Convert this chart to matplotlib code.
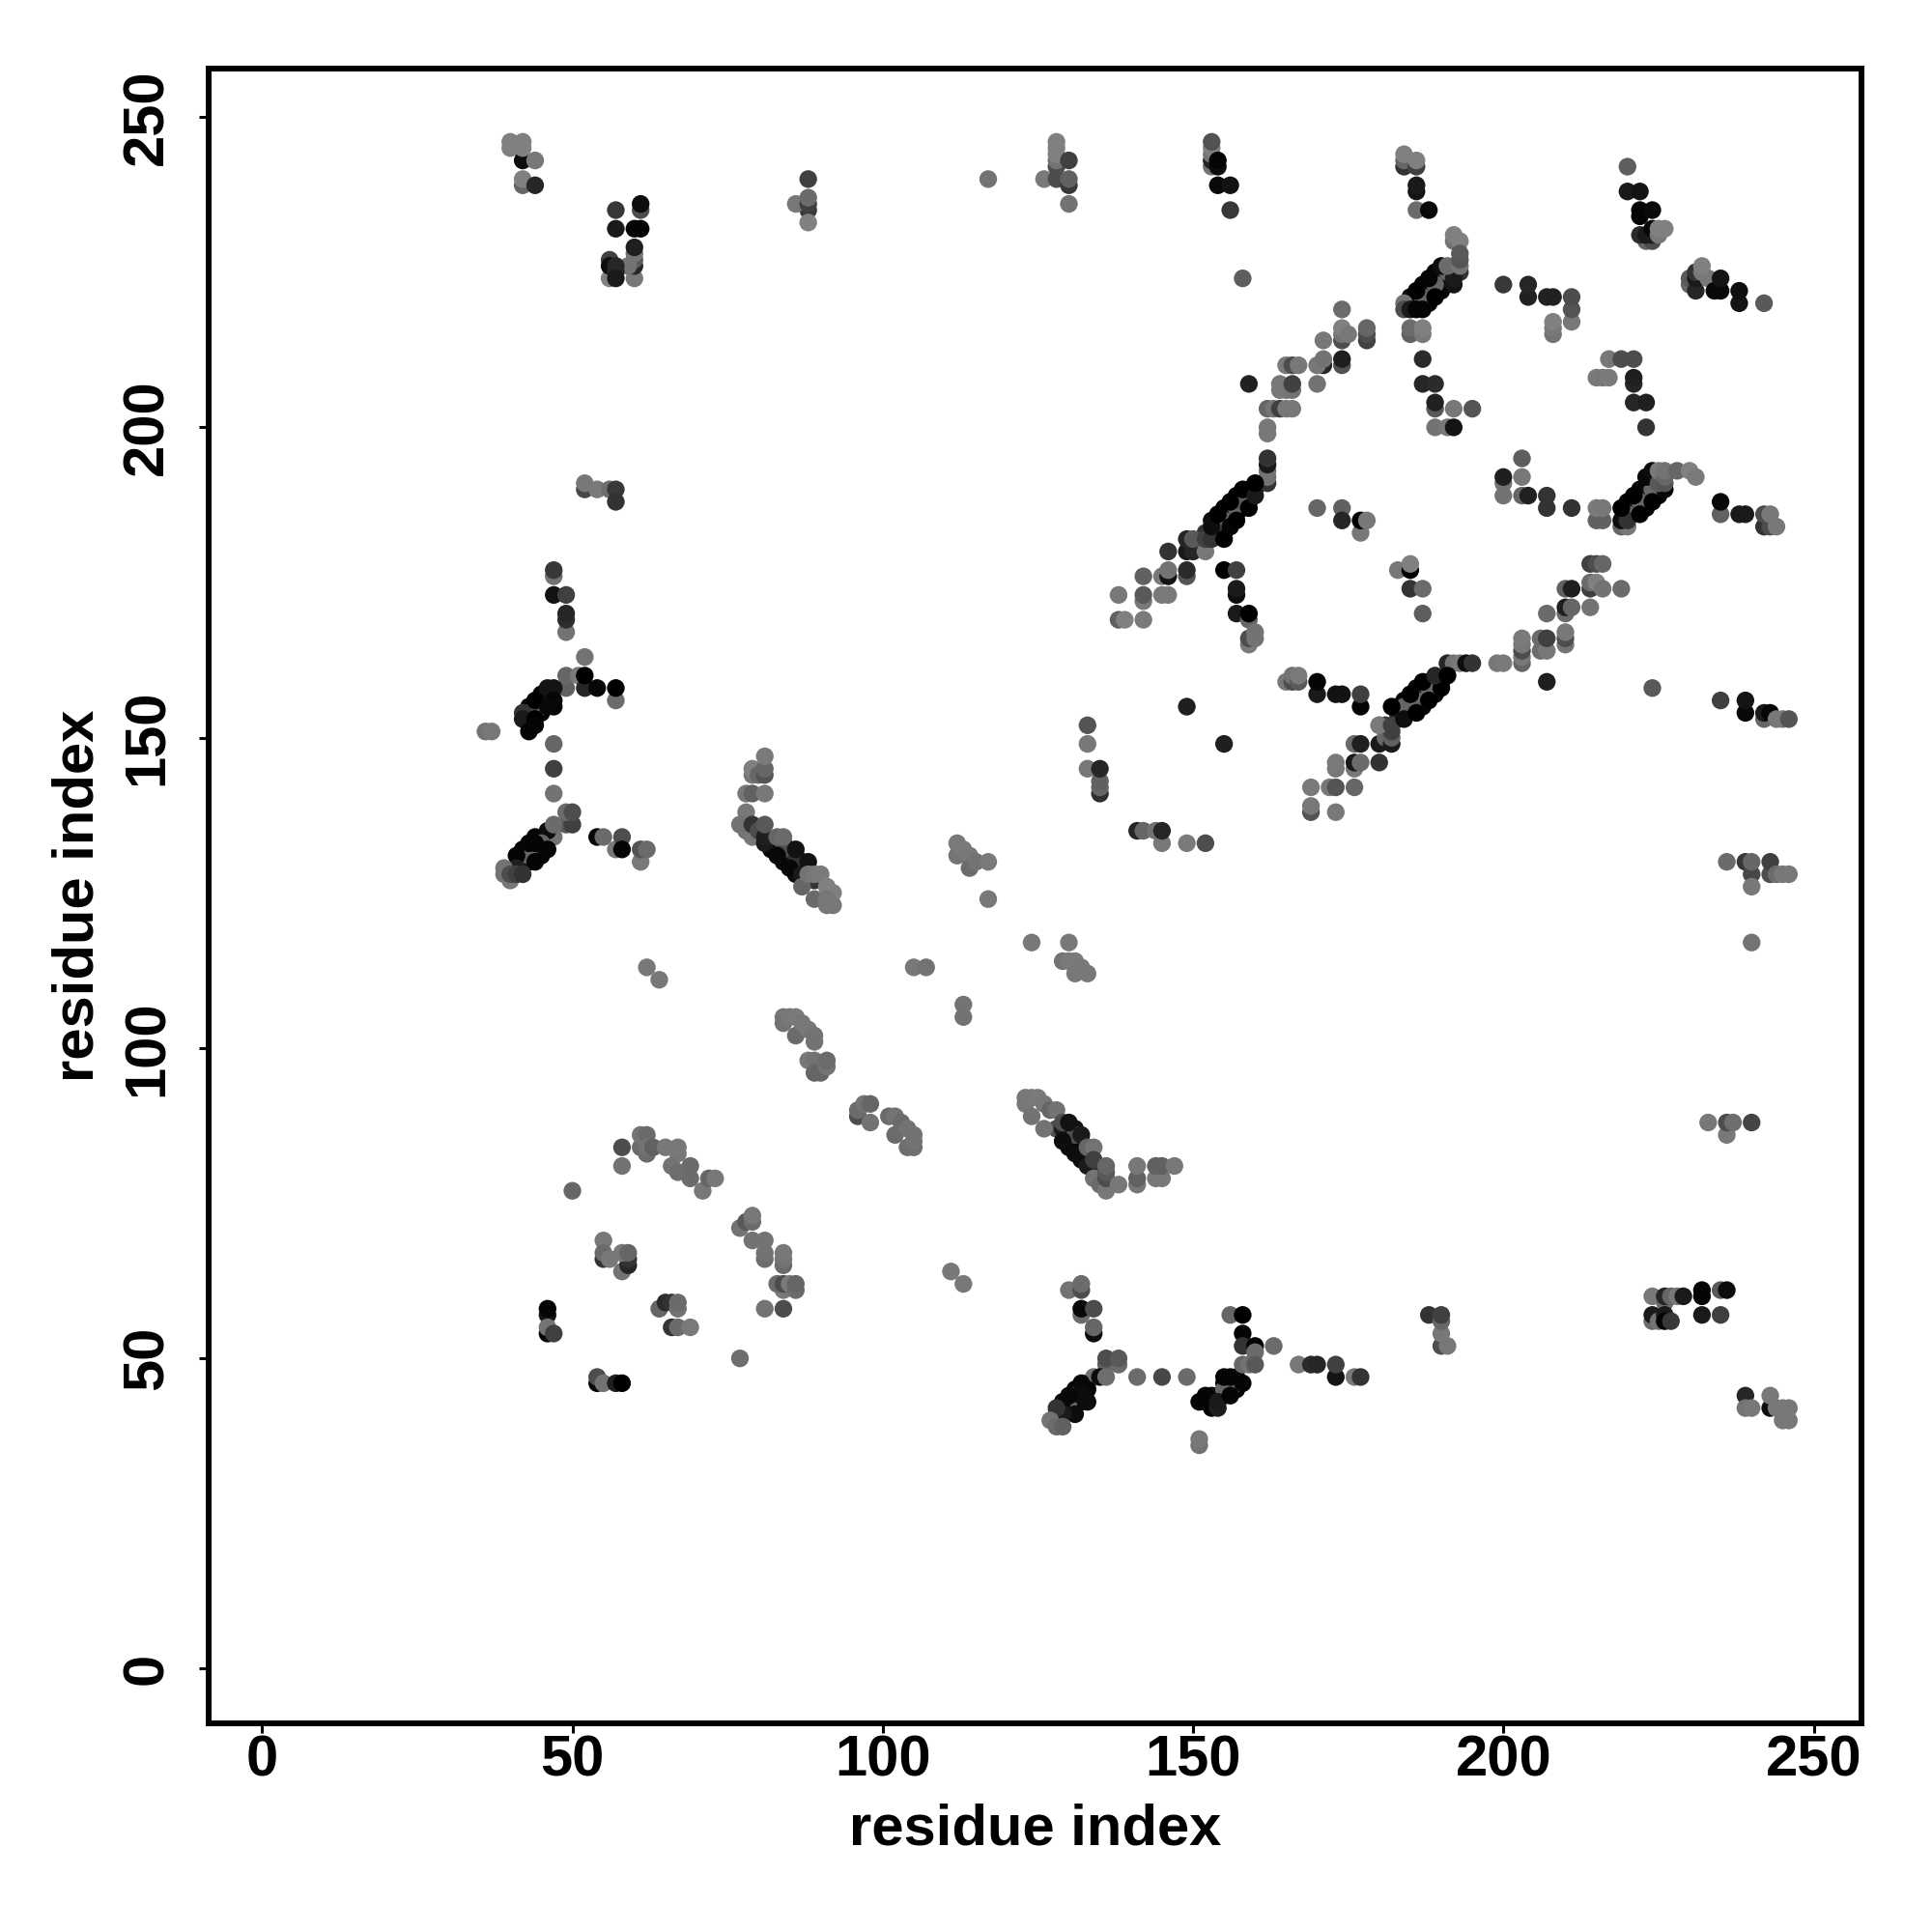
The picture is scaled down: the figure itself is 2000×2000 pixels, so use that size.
import matplotlib
matplotlib.use("Agg")
import matplotlib.pyplot as plt

# (residue i, residue j, grey level 0=black .. 0.5=mid grey)
diagonal_fill = [
(154,184,.05),(155,184,.02),(155,183,.05),(156,185,.05),(157,186,.02),(158,187,.02),(159,188,.02),(155,187,.02),(157,189,.02),(159,190,.02),(153,185,.05),(154,185,.1),(156,186,.05),(158,188,.05),(160,190,.1),(154,183,.2),(152,183,.2),
(183,153,.05),(185,155,.02),(187,155,.02),(189,157,.02),(183,155,.05),(184,156,.02),(186,158,.02),(188,159,.02),(190,159,.02),(185,156,.05),(187,157,.05),(189,158,.05),(183,154,.1),
(187,223,.02),(189,225,.02),(188,220,.02),(190,222,.02),(191,224,.02),(185,221,.05),(187,220,.05),(188,222,.05),(190,224,.05),(186,221,.05),
(220,188,.02),(222,190,.02),(223,187,.02),(225,189,.02),(221,187,.05),(223,189,.05),(222,187,.02),(224,192,.05),
(45,157,.02),(43,155,.02),(45,154,.02),(46,156,.02),(44,154,.02),(43,152,.02),(45,156,.05),
(44,134,.02),(42,132,.02),(45,131,.02),(43,130,.02),(45,132,.05),(43,132,.05),(42,130,.1),
(84,133,.05),(85,131,.02),(86,131,.02),(87,129,.05),(84,130,.03),(86,128,.05),(82,132,.03),(85,132,.1),(87,130,.1),(88,129,.1),(89,127,.2),
(130,87,.05),(131,87,.07),(132,85,.05),(130,84,.03),(131,85,.03),(132,82,.05),(133,83,.05),(134,81,.15),(135,80,.2),(128,87,.3),(129,87,.1),
(131,45,.02),(131,44,.02),(133,46,.02),(130,42,.02),(132,43,.02),(129,42,.05),(128,41,.2),
(156,46,.02),(157,45,.02),(155,44,.02),(155,46,.02),(153,43,.02),(152,43,.02),(157,47,.02),(153,44,.05),(154,44,.05),
]
top_left = [
(40,246,.5),(40,245,.5),(42,243,.05),(42,246,.5),(42,245,.5),(44,243,.47),(42,239,.4),(42,240,.5),(44,239,.15),
(57,235,.22),(61,235,.3),(61,236,.05),(57,232,.1),(60,232,.02),(61,232,.02),(60,224,.47),(60,226,.15),(60,227,.35),(59,226,.45),(60,228,.45),(60,229,.12),
(56,224,.5),(56,227,.25),(56,226,.05),(57,225,.15),(57,226,.15),(57,224,.1),
(88,235,.22),(88,240,.25),(86,236,.47),(88,236,.25),(88,237,.42),(88,233,.5),
(52,190,.28),(52,191,.47),(54,190,.48),(56,190,.43),(57,190,.22),(57,188,.2),
]
top_mid = [
(117,240,.45),(126,240,.48),(128,240,.3),(130,239,.22),(130,240,.38),(130,236,.45),
(128,242,.3),(128,243,.45),(128,244,.5),(128,245,.5),(128,246,.5),(130,243,.25),
(153,242,.45),(153,243,.15),(153,244,.45),(153,245,.5),(153,246,.32),(154,242,.05),(154,243,.02),(154,239,.04),(156,239,.07),(156,235,.22),
(158,224,.37),(159,207,.13),(174,219,.42),
(174,214,.3),(174,215,.45),(174,216,.5),(175,215,.47),(178,214,.25),(178,215,.3),(178,216,.4),(171,214,.47),
(171,210,.15),(170,210,.47),(171,211,.45),(174,210,.32),(174,211,.12),(170,207,.45),
(165,210,.48),(166,210,.3),(167,210,.47),(164,206,.47),(165,206,.47),(164,207,.47),(166,206,.45),(166,207,.25),
(162,203,.4),(163,203,.45),(164,203,.25),(165,203,.47),(166,203,.47),(162,199,.47),(162,200,.47),
(162,191,.2),(162,192,.45),(162,193,.45),(162,194,.1),(162,195,.2),
(149,180,.1),(150,180,.15),(149,182,.15),(152,180,.47),(146,180,.2),(150,182,.35),(152,182,.25),(153,182,.2),(153,184,.25),
(155,185,.4),(157,187,.4),(159,189,.12),(158,188,.35),
(155,182,0),(153,184,.05),(154,186,0),(156,184,.02),(157,185,0),(156,188,0),(159,187,0),(158,190,0),(160,189,.1),(160,191,0),
(170,187,.4),(174,187,.38),(174,185,.15),(177,183,.47),(177,185,0),(178,185,.47),
]
top_right = [
(184,242,.2),(184,243,.4),(184,244,.5),(186,242,.25),(186,243,.5),(186,238,.08),(186,239,.1),(186,235,.42),(188,235,.03),
(192,230,.45),(192,231,.5),(193,230,.5),
(187,221,.4),(189,223,.4),(191,225,.4),
(193,225,.2),(192,223,.08),(192,224,.1),(190,226,.05),(191,226,.42),(193,226,.45),(193,227,.33),(193,228,.35),
(188,224,.02),(186,222,0),(189,221,0),(184,220,.45),(184,219,.3),(185,219,.1),(186,219,.02),(187,219,.02),
(185,215,.38),(185,216,.42),(187,215,.48),(187,216,.5),(187,211,.17),(187,207,.15),(189,207,.17),(189,203,.35),(189,204,.13),(192,203,.47),(195,203,.33),(189,200,.45),(191,200,.47),(192,200,.08),
(200,223,.22),(204,221,.13),(204,223,.15),(207,221,.13),(208,221,.13),(211,217,.47),(211,219,.33),(211,221,.3),(208,215,.45),(208,216,.47),(208,217,.5),
(220,242,.37),(220,238,.1),(222,238,.08),(222,234,.02),(222,235,.02),(224,235,.04),(223,230,.4),(224,230,.3),(222,231,.17),(223,231,.1),(224,231,.1),(224,232,.03),(225,231,.47),(225,232,.5),(226,232,.5),
(230,223,.4),(230,224,.35),(231,222,.15),(231,224,.1),(231,225,.2),(233,224,.47),(232,225,.47),(232,226,.5),(235,222,.03),(234,222,.03),(235,224,.08),(238,220,.08),(238,222,.06),(242,220,.35),
(217,211,.47),(219,211,.3),(221,211,.3),(215,208,.48),(216,208,.47),(217,208,.48),(221,207,.15),(221,208,.12),(221,204,.15),(223,204,.12),(223,200,.2),
(203,195,.37),(200,189,.45),(200,191,.45),(200,192,.12),(203,192,.47),(203,189,.4),(204,189,.13),(207,187,.2),(207,189,.2),(211,187,.2),
(215,185,.38),(216,185,.38),(215,187,.48),(216,187,.47),
(219,184,.4),(220,184,.47),(219,185,.05),(220,186,.4),(222,188,.4),(224,190,.4),
(220,185,.2),(219,187,0),(222,186,0),(221,189,0),(224,188,0),(223,192,.03),(226,190,.03),(224,193,.05),
(225,191,.35),(225,193,.48),(226,191,.33),(226,192,.4),(226,193,.45),(228,193,.4),(230,193,.5),(231,192,.48),
(235,186,.38),(235,188,.03),(238,186,.1),(239,186,.1),(242,184,.2),(242,186,.3),(243,184,.3),(243,186,.47),(244,184,.47),
]
mid_left = [
(47,176,.45),(47,177,.22),(47,173,.07),(49,173,.25),(49,167,.45),(49,169,.18),(49,170,.15),
(52,163,.45),(49,158,.38),(49,160,.4),(51,160,.48),(52,158,.15),(52,160,0),(54,158,.03),(57,156,.42),(57,158,0),
(45,155,.4),(43,154,.3),
(46,158,.08),(47,158,.08),(47,156,.02),(44,156,0),(47,155,.02),(42,154,.2),(42,153,.1),(44,153,0),(43,151,.02),(44,152,.02),(46,155,.03),
(36,151,.45),(37,151,.47),(47,149,.4),(47,145,.25),(47,141,.45),
(49,136,.35),(50,136,.25),(49,138,.42),(50,138,.3),(47,134,.45),(46,135,.05),(47,136,.42),
(43,131,.4),(45,133,.4),
(43,133,.02),(44,133,.02),(46,132,.02),(44,130,.02),(41,131,.02),(41,129,.12),
(39,128,.45),(39,129,.45),(40,127,.47),(40,128,.3),(41,128,.25),(42,128,.2),
(54,134,.02),(55,134,.42),(57,132,.47),(58,134,.3),(58,132,.02),(61,130,.47),(61,132,.33),(62,132,.42),
(78,141,.47),(79,141,.38),(81,141,.47),(79,144,.47),(79,145,.5),(80,144,.4),(81,144,.33),(81,145,.4),(81,147,.48),
(78,138,.47),(77,136,.45),(78,135,.45),(79,134,.47),(79,136,.2),(80,135,.3),(81,133,.1),(81,134,.12),(81,136,.35),
(84,132,.3),(86,130,.2),
(83,131,.03),(83,134,.4),(84,134,.42),(85,129,.03),(86,132,.07),(87,128,.1),(88,130,.07),
(87,126,.4),(88,128,.45),(89,128,.47),(90,128,.48),(89,124,.42),(91,126,.5),(92,125,.5),(91,124,.47),(91,123,.47),(92,123,.47),
(62,113,.47),(64,111,.47),
]
mid_centre = [
(105,113,.47),(107,113,.45),
(142,176,.38),(145,176,.47),(146,176,.08),(146,177,.45),(149,176,.33),(149,177,.17),
(138,173,.47),(142,172,.47),(142,173,.35),(145,173,.47),(146,173,.48),(138,169,.38),(139,169,.5),(142,169,.48),
(155,177,0),(157,177,.25),(157,173,.05),(157,174,.1),(157,170,.1),(159,169,.4),(159,170,0),(159,165,.48),(159,166,.3),(160,166,.45),(160,167,.45),
(165,159,.47),(166,159,.3),(166,160,.45),(167,159,.35),(167,160,.48),(170,157,.1),(170,159,.02),(173,157,.07),(174,157,.07),(177,155,.02),(177,157,.25),
(149,155,.12),(155,149,.12),(133,152,.33),(133,149,.47),(133,145,.47),(135,141,.18),(135,142,.4),(135,143,.38),(135,145,.15),
(141,135,.15),(142,135,.4),(144,135,.45),(145,133,.47),(145,135,.15),(149,133,.48),(152,133,.3),
(169,142,.48),(172,142,.47),(173,142,.33),(176,142,.4),(169,138,.33),(169,139,.47),(173,138,.47),
(173,145,.47),(173,146,.48),(176,145,.47),(176,146,.1),(177,146,.42),(180,146,.2),
(176,149,.42),(177,149,.12),(180,149,.1),(180,152,.47),(181,150,.4),(181,152,.2),(182,149,.1),(182,150,.38),(182,151,.25),
(112,131,.45),(112,133,.48),(113,132,.48),(114,131,.47),(114,129,.42),(115,130,.45),(117,130,.48),(117,124,.47),
(124,117,.47),(130,117,.47),(129,114,.45),(130,114,.48),(131,114,.48),(131,112,.47),(132,113,.47),(133,112,.47),
(113,107,.45),(113,105,.45),
]
mid_right = [
(183,177,.47),(185,177,0),(185,178,.5),(185,174,.2),(187,174,.42),(187,170,.37),
(214,178,.25),(215,178,.3),(216,178,.4),(214,174,.25),(214,175,.42),(215,175,.5),(216,174,.45),(219,174,.42),(214,171,.45),
(210,174,.38),(211,174,.12),(210,170,.42),(210,171,.12),(211,171,.4),(207,170,.42),
(210,165,.45),(210,166,.3),(210,167,.47),(206,164,.42),(206,166,.42),(207,164,.47),(207,166,.25),
(203,162,.4),(203,163,.47),(203,164,.3),(203,165,.47),(203,166,.48),(199,162,.47),(200,162,.48),
(207,159,.12),(224,158,.35),(235,156,.25),(239,154,.03),(239,156,.08),
(242,153,.4),(242,154,.1),(243,154,.02),(244,153,.47),(245,153,.47),(246,153,.33),
(236,130,.42),(239,130,.22),(240,128,.28),(240,130,.4),(243,128,.3),(243,130,.25),(244,128,.42),(245,128,.47),(246,128,.47),(240,126,.47),(240,117,.45),
(191,162,.15),(192,162,.45),(193,162,.47),(194,162,.05),(195,162,.2),
(180,152,.48),(184,155,.4),(186,156,.4),(188,158,.4),
(182,152,.25),(182,155,0),(184,153,.05),(186,154,0),(185,157,0),(188,156,0),(187,159,0),(190,158,0),(189,160,.15),(191,160,0),
]
low_left = [
(84,105,.47),(84,104,.45),(85,105,.47),(86,105,.48),(86,102,.42),(87,104,.47),(88,103,.47),(89,102,.45),(89,101,.45),
(88,98,.47),(89,98,.45),(89,96,.4),(90,96,.4),(91,97,.45),(91,98,.42),
(96,89,.3),(96,90,.42),(97,91,.45),(98,91,.4),(98,88,.45),(101,89,.42),(102,86,.42),(102,89,.45),(103,88,.42),(104,87,.45),(104,84,.43),(105,84,.43),(105,85,.45),(105,86,.45),
(58,84,.3),(58,81,.45),(62,83,.15),(61,84,.42),(62,83,.42),(61,86,.45),(62,86,.42),(62,84,.45),(63,84,.38),(65,84,.47),(67,83,.47),(67,84,.47),(66,81,.45),(67,80,.43),(69,79,.42),(69,81,.42),(71,77,.47),(72,79,.4),(73,79,.47),
(50,77,.4),
(77,71,.45),(78,72,.35),(79,72,.42),(79,73,.47),(79,69,.45),(81,69,.45),(81,66,.42),(81,67,.45),(84,65,.42),(84,66,.45),(84,67,.47),
(84,61,.47),(83,62,.42),(84,62,.3),(85,62,.48),(86,61,.42),(86,62,.4),(81,58,.45),(84,58,.3),(77,50,.43),
(55,69,.47),(55,66,.2),(55,67,.42),(56,66,.47),(58,64,.45),(59,65,.15),(59,66,.2),(58,67,.47),(59,67,.4),
(64,58,.4),(65,59,.17),(66,59,.2),(67,58,.45),(67,59,.42),(66,55,.2),(67,55,.42),(69,55,.48),
(46,57,.08),(46,58,.02),(46,54,.02),(46,55,.45),(47,54,.25),
(54,46,.02),(54,47,.3),(55,46,.45),(57,46,.12),(58,46,0),
]
low_centre = [
(111,64,.47),(113,62,.47),
(123,91,.47),(123,92,.47),(124,92,.47),(125,92,.48),(124,89,.45),(126,87,.45),(126,91,.47),(127,90,.4),(128,90,.45),
(129,88,.3),(131,86,.3),(133,84,.35),
(129,85,.05),(130,88,.07),(131,83,.05),(132,86,.1),(133,81,.1),(133,84,.4),(134,84,.45),(134,82,.25),(134,79,.45),(135,78,.42),
(136,77,.47),(136,79,.3),(136,80,.35),(136,81,.4),(138,78,.47),
(141,78,.47),(141,79,.38),(141,81,.47),(144,79,.47),(145,79,.47),(144,81,.38),(145,81,.38),(147,81,.47),
(130,61,.45),(132,61,.3),(132,62,.42),(132,57,.42),(132,58,.03),(134,58,.3),(134,54,.05),(134,55,.4),
(136,49,.38),(138,49,.42),(136,50,.3),(138,50,.35),(134,47,.45),(135,47,.05),(136,47,.43),
(130,43,.4),(132,45,.4),
(132,46,.03),(133,45,.03),(132,44,.05),(130,44,.03),(129,43,.03),(133,43,.05),(131,41,.05),(129,41,.1),(128,42,.2),(127,40,.45),(128,39,.42),(129,39,.38),
(141,47,.42),(145,47,.28),(149,47,.42),
(155,45,.4),(157,46,.4),
(151,43,.02),(152,44,.02),(153,42,.02),(154,42,.12),(154,43,.1),(156,44,.02),(155,47,.02),(156,47,.02),(158,46,.02),
(151,36,.45),(151,37,.47),
(156,57,.4),(158,57,0),(158,54,.02),(158,52,.2),(160,52,0),(163,52,.42),(158,49,.4),(159,49,.45),(160,51,.42),(160,49,.35),
(167,49,.47),(169,49,.17),(170,49,.15),(173,47,.08),(173,49,.25),(176,47,.47),(177,47,.2),
]
low_right = [
(233,88,.47),(236,86,.47),(236,88,.3),(237,88,.43),(240,88,.27),
(188,57,.2),(190,52,.3),(190,54,.47),(190,56,.4),(190,57,.25),(191,52,.47),
(224,60,.47),(226,59,.42),(226,60,.15),(227,60,.4),(228,60,.47),(229,60,.1),
(224,56,.42),(224,57,.1),(225,56,.45),(226,57,.1),(226,56,.02),(227,56,.22),
(232,60,.02),(232,61,.02),(235,61,.35),(236,61,.05),(232,57,.1),(235,57,.25),
(239,44,.15),(239,42,.45),(240,42,.47),(243,42,.05),(243,44,.47),(244,42,.47),(245,40,.47),(246,40,.47),(245,42,.47),(246,42,.47),
]
regions = [diagonal_fill, top_left, top_mid, top_right, mid_left, mid_centre, mid_right, low_left, low_centre, low_right]
ticks = [0, 50, 100, 150, 200, 250]
axis_label = "residue index"

plt.rcParams["font.family"] = ["Liberation Sans", "DejaVu Sans"]
plt.rcParams["font.weight"] = "bold"
fig = plt.figure(figsize=(20, 20), dpi=100, facecolor="white")
ax = fig.add_axes([216/2000, 1-1784/2000, (1927-216)/2000, (1784-71)/2000])
for region in regions:
    xs = [p[0] for p in region]
    ys = [p[1] for p in region]
    cs = [(p[2], p[2], p[2]) for p in region]
    ax.scatter(xs, ys, s=174, c=cs, linewidths=0, zorder=3)
ax.set_xlim(-8.6, 257.7)
ax.set_ylim(-8.8, 257.8)
ax.set_xticks(ticks)
ax.set_yticks(ticks)
ax.set_xticklabels([str(t) for t in ticks], fontsize=43, fontweight="bold")
ax.set_yticklabels([str(t) for t in ticks], fontsize=43, fontweight="bold", rotation=90, va="center")
ax.tick_params(axis="both", length=7, width=2.2)
ax.tick_params(axis="x", pad=1)
ax.tick_params(axis="y", pad=18.5)
for s in ax.spines.values():
    s.set_linewidth(4.3)
fig.text((216+1927)/2/2000, 1-1893.5/2000, axis_label, fontsize=43, fontweight="bold", ha="center", va="center")
fig.text(81.5/2000, 1-927/2000, axis_label, fontsize=43, fontweight="bold", ha="center", va="center", rotation=90)
fig.savefig("out.png", dpi=100)
